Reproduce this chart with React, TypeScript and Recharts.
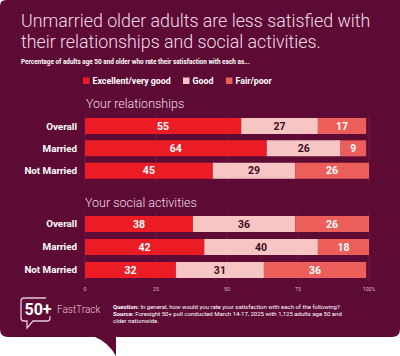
import React from "react";
import { BarChart, Bar, XAxis, YAxis, CartesianGrid, LabelList } from "recharts";

const groups = ["Overall", "Married", "Not Married"];
const relExcellent = [55, 64, 45];
const relGood = [27, 26, 29];
const relFair = [17, 9, 26];
const socExcellent = [38, 42, 32];
const socGood = [36, 40, 31];
const socFair = [26, 18, 36];
const xTicks = [0, 25, 50, 75, 100];
const seriesNames = ["Excellent/very good", "Good", "Fair/poor"];

const BG = "#5d0b35";
const RED = "#ec1c24";
const PINK = "#f6c5c4";
const SALMON = "#ec5e5a";
const LIGHT = "#f3dce6";
const FONT = "Roboto, 'Noto Sans', sans-serif";

const build = (a: number[], b: number[], c: number[]) =>
  groups.map((g, i) => ({ name: g, exc: a[i], good: b[i], fair: c[i] }));

const relData = build(relExcellent, relGood, relFair);
const socData = build(socExcellent, socGood, socFair);

function Section({ data, top, height, showAxis }: { data: any[]; top: number; height: number; showAxis: boolean }) {
  return (
    <div style={{ position: "absolute", left: 0, top, width: 400, height }}>
      <BarChart
        width={400}
        height={height}
        data={data}
        layout="vertical"
        margin={{ top: 0, right: 31, left: 0, bottom: 0 }}
        barCategoryGap={3}
      >
        <CartesianGrid horizontal={false} stroke="rgba(255,255,255,0.08)" strokeWidth={1} />
        <XAxis
          type="number"
          domain={[0, 100]}
          ticks={xTicks}
          hide={!showAxis}
          axisLine={false}
          tickLine={false}
          height={showAxis ? 14 : 0}
          tick={{ fill: "#d9b9c7", fontSize: 5.2, fontFamily: FONT }}
          tickFormatter={(v: number) => (v === 100 ? "100%" : String(v))}
          tickMargin={0}
        />
        <YAxis
          type="category"
          dataKey="name"
          width={85}
          axisLine={false}
          tickLine={false}
          tick={{ fill: "#ffffff", fontSize: 9.8, fontWeight: 700, fontFamily: FONT }}
        />
        <Bar dataKey="exc" stackId="s" fill={RED} isAnimationActive={false} barSize={16}>
          <LabelList dataKey="exc" position="center" fill="#ffffff" fontSize={10.5} fontWeight={700} fontFamily={FONT} />
        </Bar>
        <Bar dataKey="good" stackId="s" fill={PINK} isAnimationActive={false} barSize={16}>
          <LabelList dataKey="good" position="center" fill="#3a0c22" fontSize={10.5} fontWeight={700} fontFamily={FONT} />
        </Bar>
        <Bar dataKey="fair" stackId="s" fill={SALMON} isAnimationActive={false} barSize={16}>
          <LabelList dataKey="fair" position="center" fill="#ffffff" fontSize={10.5} fontWeight={700} fontFamily={FONT} />
        </Bar>
      </BarChart>
    </div>
  );
}

export default function App() {
  const legendColors = [RED, PINK, SALMON];
  const legendX = [83, 183, 226];
  return (
    <div style={{ position: "absolute", left: 0, top: 0, width: 400, height: 356, background: "#ffffff", overflow: "hidden", fontFamily: FONT }}>
      <svg width={400} height={356} style={{ position: "absolute", left: 0, top: 0 }}>
        <path
          d={`M6,0 H400 V329 Q400,337 392,337 H116 V356 Q108,342 95,337 H8 Q0,337 0,329 V6 Q0,0 6,0 Z`}
          fill={BG}
        />
        <text x={21} y={27} fill={LIGHT} fontSize={17.8} fontWeight={300} fontFamily={FONT}>
          Unmarried older adults are less satisfied with
        </text>
        <text x={21} y={48} fill={LIGHT} fontSize={17.8} fontWeight={300} fontFamily={FONT}>
          their relationships and social activities.
        </text>
        <text x={21} y={63.5} fill="#ffffff" fontSize={6.4} fontWeight={700} fontFamily={FONT}>
          Percentage of adults age 50 and older who rate their satisfaction with each as...
        </text>
        {seriesNames.map((n, i) => (
          <g key={n}>
            <rect x={legendX[i]} y={77.5} width={6.5} height={6.5} fill={legendColors[i]} />
            <text x={legendX[i] + 9.5} y={84} fill="#ffffff" fontSize={8.8} fontWeight={700} fontFamily={FONT}>
              {n}
            </text>
          </g>
        ))}
        <text x={86} y={108} fill={LIGHT} fontSize={12.5} fontWeight={300} fontFamily={FONT}>
          Your relationships
        </text>
        <text x={85} y={206.5} fill={LIGHT} fontSize={12.5} fontWeight={300} fontFamily={FONT}>
          Your social activities
        </text>
        {/* logo */}
        <path
          d="M46,298 H24 Q21,298 21,301 V318 Q21,321 24,321 H27 V328 L33,321 H47 Q50,321 50,318 V316"
          fill="none"
          stroke="#e9c7d6"
          strokeWidth={1.3}
        />
        <text x={24.5} y={315} fill="#ffffff" fontSize={16} fontWeight={700} fontFamily={FONT}>
          50+
        </text>
        <text x={57} y={313} fill="#e9c7d6" fontSize={10} fontWeight={300} fontFamily={FONT}>
          FastTrack
        </text>
        <text x={113} y={309} fill="#ffffff" fontSize={6} fontFamily={FONT}>
          <tspan fontWeight={700}>Question: </tspan>In general, how would you rate your satisfaction with each of the following?
        </text>
        <text x={113} y={316} fill="#ffffff" fontSize={6} fontFamily={FONT}>
          <tspan fontWeight={700}>Source: </tspan>Foresight 50+ poll conducted March 14-17, 2025 with 1,125 adults age 50 and
        </text>
        <text x={113} y={323} fill="#ffffff" fontSize={6} fontFamily={FONT}>
          older nationwide.
        </text>
      </svg>
      <Section data={relData} top={115} height={67} showAxis={false} />
      <Section data={socData} top={212} height={83} showAxis={true} />
    </div>
  );
}
